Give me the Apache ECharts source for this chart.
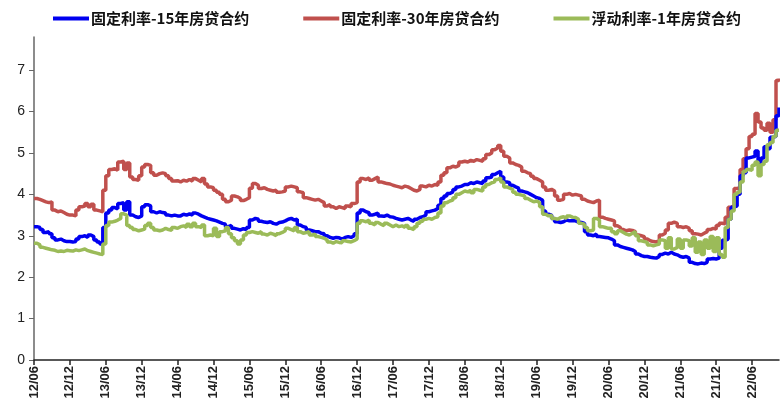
<!DOCTYPE html>
<html><head><meta charset="utf-8">
<script src="https://cdn.jsdelivr.net/npm/echarts@6/dist/echarts.min.js"></script>
<style>html,body{margin:0;padding:0;background:#fff}#c{width:780px;height:403px}</style>
</head><body><div id="c"></div>
<script>
// Semi-monthly observations from 2012-06 (1st & 15th of each month), 250 points
const startYear = 2012, startMonth = 6, nPoints = 250;
const seriesNames = ['固定利率-15年房贷合约', '固定利率-30年房贷合约', '浮动利率-1年房贷合约'];
const tickLabels = ['12/06','12/12','13/06','13/12','14/06','14/12','15/06','15/12','16/06','16/12','17/06','17/12','18/06','18/12','19/06','19/12','20/06','20/12','21/06','21/12','22/06'];

const rate30 = [
3.90,3.88,3.85,3.82,3.80,3.82,3.62,3.58,3.60,3.56,3.52,3.50,
3.50,3.48,3.62,3.70,3.72,3.78,3.70,3.76,3.62,3.60,3.58,4.10,
4.45,4.60,4.62,4.58,4.78,4.80,4.60,4.76,4.42,4.36,4.34,4.45,
4.66,4.72,4.70,4.52,4.46,4.50,4.52,4.50,4.45,4.38,4.32,4.33,
4.30,4.34,4.32,4.36,4.32,4.38,4.34,4.30,4.38,4.25,4.18,4.16,
4.10,4.05,4.00,3.88,3.82,3.86,3.96,3.94,3.90,3.85,3.88,3.92,
4.15,4.26,4.22,4.14,4.16,4.12,4.10,4.08,4.10,4.05,4.06,4.08,
4.18,4.20,4.18,4.16,4.06,4.04,3.92,3.90,3.88,3.86,3.88,3.84,
3.80,3.72,3.75,3.70,3.66,3.70,3.68,3.66,3.72,3.70,3.78,3.80,
4.30,4.38,4.36,4.40,4.34,4.38,4.42,4.30,4.28,4.26,4.25,4.22,
4.20,4.18,4.16,4.20,4.18,4.14,4.10,4.08,4.12,4.20,4.18,4.22,
4.20,4.24,4.22,4.30,4.46,4.52,4.64,4.68,4.66,4.70,4.78,4.80,
4.78,4.82,4.80,4.84,4.82,4.80,4.86,4.96,5.00,5.08,5.12,5.18,
5.04,4.92,4.88,4.76,4.72,4.70,4.66,4.56,4.52,4.50,4.44,4.38,
4.34,4.30,4.18,4.10,4.12,4.08,3.96,3.86,3.88,4.00,4.02,3.98,
4.00,3.98,3.96,3.88,3.84,3.82,3.80,3.84,3.86,3.45,3.42,3.40,
3.38,3.36,3.24,3.20,3.15,3.12,3.14,3.13,3.10,3.02,3.00,2.98,
2.92,2.88,2.86,2.85,2.88,3.02,3.06,3.14,3.30,3.33,3.30,3.22,
3.20,3.22,3.18,3.12,3.05,3.04,3.02,3.06,3.10,3.15,3.18,3.16,
3.25,3.30,3.29,3.45,3.69,3.72,4.14,4.16,4.60,4.86,5.10,5.40,
5.45,5.95,5.75,5.60,5.55,5.72,5.50,5.80,6.75,6.80];

const rate15 = [
3.22,3.20,3.15,3.08,3.10,3.05,2.95,2.90,2.92,2.88,2.86,2.86,
2.85,2.86,2.92,2.98,3.00,2.96,3.02,2.98,2.90,2.85,2.80,3.20,
3.55,3.62,3.68,3.65,3.78,3.80,3.62,3.82,3.50,3.46,3.44,3.48,
3.70,3.75,3.72,3.58,3.55,3.58,3.56,3.55,3.50,3.48,3.50,3.48,
3.48,3.52,3.50,3.53,3.50,3.55,3.52,3.48,3.45,3.42,3.40,3.38,
3.36,3.33,3.30,3.28,3.22,3.25,3.18,3.16,3.14,3.17,3.15,3.20,
3.38,3.42,3.40,3.35,3.33,3.32,3.34,3.30,3.28,3.32,3.33,3.36,
3.40,3.42,3.38,3.40,3.26,3.22,3.20,3.14,3.12,3.10,3.10,3.06,
3.05,3.00,2.96,2.94,2.96,2.95,2.92,2.96,2.98,2.96,3.00,3.05,
3.55,3.62,3.58,3.56,3.50,3.52,3.55,3.48,3.47,3.50,3.46,3.45,
3.42,3.40,3.38,3.40,3.42,3.38,3.35,3.40,3.44,3.46,3.50,3.58,
3.60,3.62,3.66,3.74,3.90,3.96,4.02,4.06,4.12,4.18,4.20,4.24,
4.24,4.28,4.26,4.30,4.28,4.26,4.32,4.40,4.42,4.48,4.52,4.56,
4.42,4.30,4.28,4.22,4.18,4.15,4.08,4.06,4.04,4.00,3.96,3.92,
3.90,3.86,3.60,3.52,3.50,3.42,3.34,3.32,3.34,3.38,3.36,3.37,
3.36,3.33,3.32,3.30,3.10,3.02,3.00,3.04,2.98,2.97,2.96,2.95,
2.92,2.88,2.78,2.74,2.72,2.70,2.68,2.66,2.62,2.56,2.52,2.50,
2.50,2.48,2.47,2.46,2.50,2.55,2.58,2.56,2.60,2.56,2.54,2.50,
2.48,2.50,2.46,2.36,2.33,2.32,2.34,2.33,2.36,2.44,2.45,2.44,
2.46,2.70,2.89,2.92,3.40,3.69,3.72,4.00,4.45,4.52,4.88,4.90,
4.92,5.05,4.70,4.88,5.15,5.10,5.38,5.40,5.90,6.10];

const rateArm = [
2.82,2.78,2.72,2.70,2.68,2.66,2.65,2.62,2.63,2.62,2.65,2.64,
2.63,2.66,2.64,2.66,2.68,2.64,2.62,2.60,2.58,2.56,2.55,2.80,
3.25,3.33,3.35,3.38,3.42,3.53,3.50,3.25,3.20,3.15,3.12,3.14,
3.16,3.25,3.30,3.20,3.14,3.12,3.14,3.18,3.15,3.13,3.20,3.18,
3.22,3.24,3.20,3.28,3.22,3.30,3.22,3.20,3.26,3.00,3.02,3.00,
3.18,2.98,3.10,3.12,3.20,3.05,2.95,2.88,2.80,2.90,3.02,3.08,
3.10,3.08,3.06,3.10,3.04,3.02,3.06,3.04,3.00,3.05,3.08,3.12,
3.18,3.15,3.12,3.20,3.10,3.06,3.08,3.10,3.02,3.04,2.98,2.96,
2.94,2.90,2.85,2.82,2.86,2.84,2.83,2.88,2.86,2.85,2.88,2.92,
3.30,3.36,3.34,3.38,3.30,3.26,3.32,3.28,3.24,3.30,3.26,3.22,
3.26,3.22,3.24,3.20,3.25,3.18,3.15,3.22,3.30,3.35,3.40,3.42,
3.40,3.44,3.46,3.55,3.72,3.80,3.84,3.86,3.92,4.00,4.04,4.08,
4.06,4.10,4.04,4.12,4.10,4.08,4.18,4.24,4.28,4.30,4.36,4.40,
4.30,4.18,4.15,4.12,4.05,4.00,3.98,3.96,3.90,3.86,3.82,3.84,
3.80,3.70,3.52,3.48,3.50,3.42,3.40,3.44,3.46,3.42,3.48,3.45,
3.44,3.40,3.30,3.28,3.20,3.12,3.14,3.42,3.38,3.22,3.20,3.18,
3.18,3.10,3.05,3.12,3.08,3.04,3.02,3.06,3.10,3.00,2.88,2.86,
2.84,2.78,2.76,2.78,2.80,2.90,2.88,2.70,2.95,2.68,2.72,2.92,
2.70,2.90,2.88,2.75,2.95,2.60,2.85,2.55,2.90,2.70,2.98,2.62,
2.95,2.55,2.48,3.20,3.40,3.60,4.00,4.05,4.30,4.55,4.60,4.58,
4.70,4.78,4.45,4.72,4.80,5.20,5.25,5.40,5.55,5.55];

// category axis: dates (semi-monthly)
const categories = [];
for (let i = 0; i < nPoints; i++) {
  const m0 = startMonth - 1 + Math.floor(i / 2);
  const y = startYear + Math.floor(m0 / 12);
  const m = (m0 % 12) + 1;
  categories.push(y + '-' + String(m).padStart(2, '0') + '-' + (i % 2 === 0 ? '01' : '15'));
}

const chart = echarts.init(document.getElementById('c'), null, {renderer: 'canvas'});
const lineSeries = (name, data, color) => ({
  name, type: 'line', data, step: 'end', showSymbol: false, symbol: 'none',
  lineStyle: {color, width: 3.5}, itemStyle: {color}, animation: false
});
chart.setOption({
  animation: false,
  backgroundColor: '#fff',
  textStyle: {fontFamily: 'Liberation Sans, Arial, sans-serif'},
  legend: {
    data: seriesNames, top: 6, left: 48, itemGap: 54, itemWidth: 36, itemHeight: 4,
    icon: 'rect',
    textStyle: {fontFamily: '"Noto Sans CJK SC", sans-serif', fontSize: 15, fontWeight: 'bold', color: '#111', padding: [0,0,0,-3]}
  },
  grid: {left: 34, right: 1, top: 37, bottom: 43, containLabel: false},
  xAxis: {
    type: 'category', data: categories, boundaryGap: false,
    axisLine: {lineStyle: {color: '#222', width: 1.5}},
    axisTick: {show: true, length: 5, interval: (i) => i % 12 === 0, lineStyle: {color: '#222', width: 1.5}},
    axisLabel: {
      interval: (i) => i % 12 === 0, rotate: 90, fontSize: 13, fontWeight: 'bold', color: '#222', margin: 6,
      formatter: (v, i) => tickLabels[Math.round(i / 12)] || ''
    },
    splitLine: {show: false}
  },
  yAxis: {
    type: 'value', min: 0, max: 7.8, interval: 1,
    axisLine: {show: true, lineStyle: {color: '#666', width: 1.5}},
    axisTick: {show: true, length: 5, lineStyle: {color: '#666'}},
    axisLabel: {fontSize: 14, color: '#222', margin: 9, showMaxLabel: false},
    splitLine: {show: false}
  },
  series: [
    lineSeries(seriesNames[1], rate30, '#C0504D'),
    lineSeries(seriesNames[0], rate15, '#0000F0'),
    lineSeries(seriesNames[2], rateArm, '#9BBB59')
  ]
});
</script></body></html>
